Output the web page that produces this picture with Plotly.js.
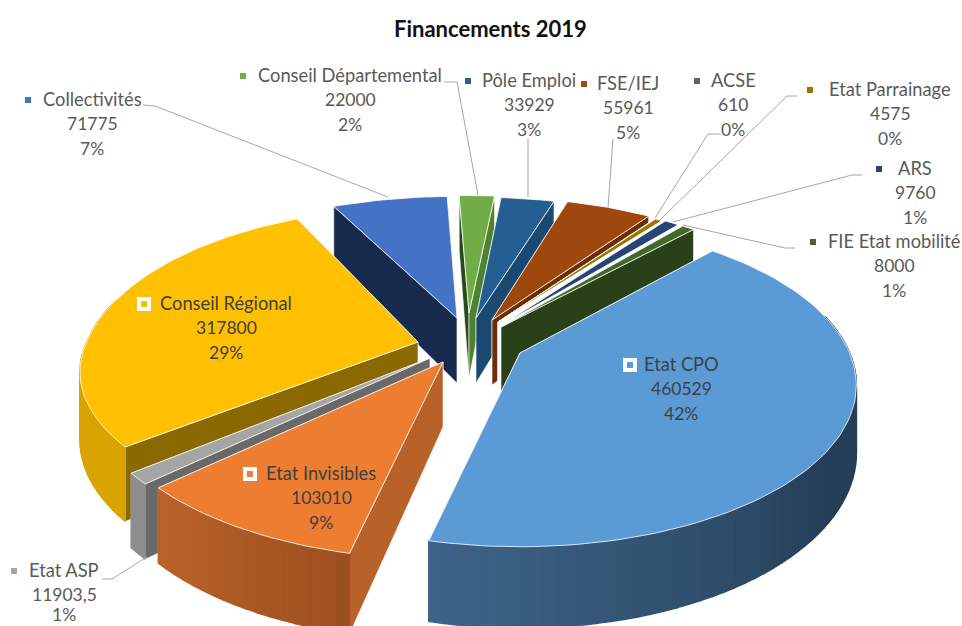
<!DOCTYPE html>
<html><head><meta charset="utf-8">
<script src="https://cdn.plot.ly/plotly-3.0.1.min.js"></script>
<style>html,body{margin:0;padding:0;background:#fff}#c{width:962px;height:626px}</style>
</head><body><div id="c"></div>
<script>
// ---- data (clockwise order) ----
var categories = ["Conseil Départemental","Pôle Emploi","FSE/IEJ","ACSE","Etat Parrainage","ARS","FIE Etat mobilité","Etat CPO","Etat Invisibles","Etat ASP","Conseil Régional","Collectivités"];
var values = [22000,33929,55961,610,4575,9760,8000,460529,103010,11903.5,317800,71775];
var valueLabels = ["22000","33929","55961","610","4575","9760","8000","460529","103010","11903,5","317800","71775"];

// ---- styles ----
var topColors  = ["#70ad47","#255e91","#9e480e","#636363","#997300","#264478","#43682b","#5b9bd5","#ed7d31","#a5a5a5","#ffc000","#4472c4"];
var startWall  = ["#264a18","#1a4a72","#6b2f08","#ffffff","#ffffff","#ffffff","#ffffff","#3a6085","#b8622a","#696969","#8a6a00","#172b4f"];
var endWall    = ["#4f8230","#1a4a72","#6b2f08","#ffffff","#ffffff","#ffffff","#2a4018","#3a6085","#b8622a","#696969","#8a6a00","#172b4f"];
var rimFrom    = ["#4f8230","#1a4a72","#6b2f08","#444444","#6b5000","#1a2f54","#2a4018","#243f57","#9c4f1f","#8e8e8e","#d9a300","#172b4f"];
var rimTo      = ["#4f8230","#1a4a72","#6b2f08","#444444","#6b5000","#1a2f54","#2a4018","#3d6589","#bb6429","#8e8e8e","#d9a300","#172b4f"];
var rimBias    = [0,0,0,0,0,0,0,0.55,0,0,0,0];
// per-slice placement of the exploded slice, in page pixels
var apexX   = [469,476,492,498,498,505,501,520,443,430,418,457];
var apexY   = [313,318,320,322,322,323,327,353,362,358,342,318];
var rxScale = [1,0.98,0.95,0.95,0.95,0.93,0.975,0.975,1,1,0.98,1];
var ryBack  = [141,145,147,146,146,147,151,158,140,140,161,146];
var ryFront = [158,158,158,158,158,158,158,155,158,158,144,158];
var drawOrder = [11,0,1,2,3,4,5,6,10,9,8,7];
var RX=338, PERSP=0.2, DEPTH=65, ROT=-2;

var total = values.reduce(function(a,b){return a+b;},0);
function rgb(h){return [1,3,5].map(function(i){return parseInt(h.substr(i,2),16);});}
function mix(a,b,t){var A=rgb(a),B=rgb(b);return "rgb("+A.map(function(v,i){return Math.round(v+(B[i]-v)*t);}).join(",")+")";}
function persp(Y){return 1/(1+PERSP*Y);}
function pt(i,deg){
  var r=deg*Math.PI/180, X=Math.sin(r), Y=Math.cos(r), p=persp(Y), ry=Y>0?ryBack[i]:ryFront[i];
  return {x:apexX[i]+RX*rxScale[i]*X*p, y:apexY[i]-ry*Y*p, h:DEPTH*p};
}
function poly(pts,fill,line,w){
  var xs=pts.map(function(q){return q[0];}), ys=pts.map(function(q){return q[1];});
  xs.push(xs[0]); ys.push(ys[0]);
  return {type:"scatter",mode:"lines",x:xs,y:ys,fill:"toself",fillcolor:fill,
          line:{color:line,width:w},hoverinfo:"skip",showlegend:false};
}
var starts=[],acc=0;
values.forEach(function(v){starts.push(acc);acc+=v;});
var traces=[];
drawOrder.forEach(function(i){
  var a0=ROT+starts[i]/total*360, a1=a0+values[i]/total*360;
  var ax=apexX[i], ay=apexY[i], ps=pt(i,a0), pe=pt(i,a1);
  var wallS=poly([[ax,ay],[ps.x,ps.y],[ps.x,ps.y+ps.h],[ax,ay+DEPTH]],startWall[i],"#ffffff",0.6);
  var wallE=poly([[ax,ay],[pe.x,pe.y],[pe.x,pe.y+pe.h],[ax,ay+DEPTH]],endWall[i],"#ffffff",0.6);
  // the wall whose outer corner lies further back is painted first
  if(ps.y<pe.y){traces.push(wallS,wallE);} else {traces.push(wallE,wallS);}
  var n=Math.max(1,Math.ceil((a1-a0)/2)), k;
  for(k=0;k<n;k++){
    var d0=a0+(a1-a0)*k/n, d1=a0+(a1-a0)*(k+1)/n, q0=pt(i,d0), q1=pt(i,d1);
    var Y=Math.cos((d0+d1)/2*Math.PI/180);
    if(Y>0.25) continue;
    var f=(k+0.5)/n, t=Math.max(0,(f-rimBias[i])/(1-rimBias[i]));
    var c=mix(rimFrom[i],rimTo[i],t);
    traces.push(poly([[q0.x,q0.y],[q1.x,q1.y],[q1.x,q1.y+q1.h],[q0.x,q0.y+q0.h]],c,c,1.5));
  }
  var top=[[ax,ay]];
  var m=Math.max(2,Math.ceil((a1-a0)/1.5));
  for(k=0;k<=m;k++){var q=pt(i,a0+(a1-a0)*k/m);top.push([q.x,q.y]);}
  traces.push(poly(top,topColors[i],"#ffffff",0.8));
});

// ---- labels (page pixels): key x, text x, y of first line ----
var labelKeyX = [243,468,584,697,810,879,813,630,250,14,144,28];
var labelX    = [350,529,628,733,890,915,894,681,321,64,226,92];
var labelY    = [75,80,83,80,89,168,241,364,473,570,303,99];
var insideKey = [0,0,0,0,0,0,0,1,1,0,1,0];
var LINE=24.6;
var leaders = [
 "M444,82 L457,82 L478,195","M528,139 L528,197","M613,139 L608,208",
 "M721,134 L708,134 L655,218","M797,96 L787,96 L660,220","M862,175 L852,175 L673,222",
 "M795,248 L785,248 L683,225","","","M102,579 L112,579 L147,557","","M143,105 L155,106 L388,197"];
var annotations=[], shapes=[];
categories.forEach(function(name,i){
  var col=insideKey[i]?"#404040":"#595959";
  [name,valueLabels[i],Math.round(values[i]/total*100)+"%"].forEach(function(t,j){
    annotations.push({xref:"x",yref:"y",x:labelX[i],y:Math.min(labelY[i]+j*LINE,614),text:t,showarrow:false,
      xanchor:"center",yanchor:"middle",font:{family:"Lato, sans-serif",size:j===0?18.3:17.5,color:col}});
  });
  var kx=labelKeyX[i], ky=labelY[i]+1;
  if(insideKey[i]){
    shapes.push({type:"rect",xref:"x",yref:"y",x0:kx-7,x1:kx+7,y0:ky-7,y1:ky+7,fillcolor:"#ffffff",line:{width:0},layer:"above"});
  }
  shapes.push({type:"rect",xref:"x",yref:"y",x0:kx-3,x1:kx+3,y0:ky-3,y1:ky+3,fillcolor:topColors[i],line:{width:0},layer:"above"});
  if(leaders[i]) shapes.push({type:"path",xref:"x",yref:"y",path:leaders[i],line:{color:"#a6a6a6",width:1},layer:"above"});
});
annotations.push({xref:"x",yref:"y",x:490,y:28,text:"<b>Financements 2019</b>",showarrow:false,
  xanchor:"center",yanchor:"middle",font:{family:"Lato, sans-serif",size:22,color:"#111111"}});

Plotly.newPlot("c",traces,{
  width:962,height:626,margin:{l:0,r:0,t:0,b:0},paper_bgcolor:"#ffffff",plot_bgcolor:"#ffffff",
  xaxis:{range:[0,962],visible:false,fixedrange:true},
  yaxis:{range:[626,0],visible:false,fixedrange:true},
  showlegend:false,hovermode:false,annotations:annotations,shapes:shapes
},{displayModeBar:false,staticPlot:true});
</script></body></html>
